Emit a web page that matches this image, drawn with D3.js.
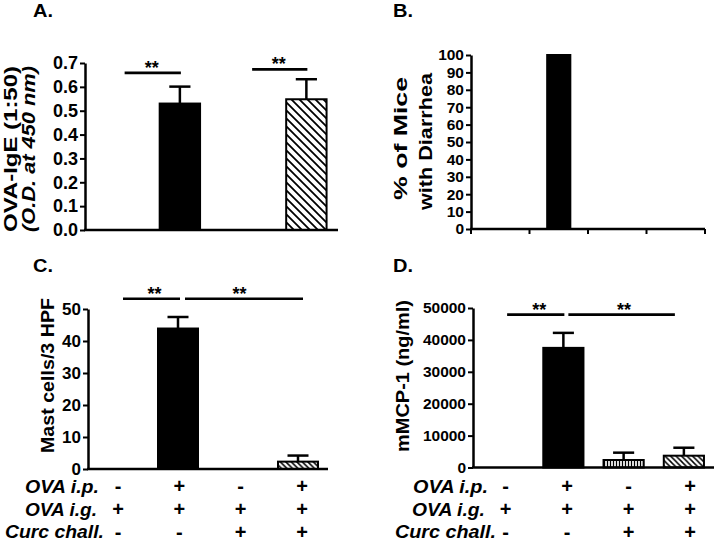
<!DOCTYPE html>
<html><head><meta charset="utf-8">
<script src="https://cdn.jsdelivr.net/npm/d3@7"></script>
<style>
body{margin:0;background:#fff}
text{font-family:"Liberation Sans",Arial,Helvetica,sans-serif;font-weight:bold;fill:#000}
</style>
</head><body>
<svg id="chart" width="716" height="542"></svg>
<script>
// ---------- data ----------
const groups = ["OVA i.g.", "OVA i.p. + i.g.", "OVA i.g. + Curc", "OVA i.p. + i.g. + Curc"];
const barStyles = ["none", "solid", "vert", "diag"];

const igeValues = [null, 0.53, null, 0.548];
const igeErrors = [null, 0.601, null, 0.632];
const igeTicks = [0, 0.1, 0.2, 0.3, 0.4, 0.5, 0.6, 0.7];

const diarrheaValues = [0, 100, 0, 0];
const diarrheaTicks = [0, 10, 20, 30, 40, 50, 60, 70, 80, 90, 100];

const mastValues = [0, 43.9, 0, 2.3];
const mastErrors = [null, 47.5, null, 4.2];
const mastTicks = [0, 10, 20, 30, 40, 50];

const mmcpValues = [0, 37500, 2350, 3700];
const mmcpErrors = [null, 42200, 4650, 6200];
const mmcpTicks = [0, 10000, 20000, 30000, 40000, 50000];

const rowLabels = ["OVA i.p.", "OVA i.g.", "Curc chall."];
const ovaIpRow = ["-", "+", "-", "+"];
const ovaIgRow = ["+", "+", "+", "+"];
const curcRow = ["-", "-", "+", "+"];

const sigA = [[0, 1, 0.659], [2, 3, 0.673]];
const sigC = [[0, 1, 53.2], [1, 3, 53.2]];
const sigD = [[0, 1, 47950], [1, 3, 47950]];

// ---------- drawing ----------
const svg = d3.select("#chart");
const defs = svg.append("defs");
function hatch(id, s, type, sw) {
  const p = defs.append("pattern").attr("id", id)
    .attr("patternUnits", "userSpaceOnUse").attr("width", s).attr("height", s);
  p.append("rect").attr("width", s).attr("height", s).attr("fill", "#fff");
  const d = type === "diag"
    ? `M0,0L${s},${s}M-1,${s-1}L1,${s+1}M${s-1},-1L${s+1},1`
    : `M${s/2},0V${s}`;
  p.append("path").attr("d", d).attr("stroke", "#000").attr("stroke-width", sw).attr("fill", "none");
}
hatch("diagA", 8, "diag", 1.8);
hatch("diagCD", 5.5, "diag", 1.5);
hatch("vertD", 3, "vert", 1.3);

function drawPanel(o) {
  const g = svg.append("g");
  const x = d3.scaleBand().domain(groups).range([o.x0, o.x1])
    .paddingInner(o.pad).paddingOuter(o.pad / 2);
  const y = d3.scaleLinear().domain([0, o.max]).range([o.y0, o.y1]);
  const bw = x.bandwidth();

  // bars
  groups.forEach((gn, i) => {
    const v = o.values[i];
    if (v == null || v <= 0) return;
    const st = barStyles[i];
    const fill = st === "solid" ? "#000" : st === "diag" ? `url(#${o.diagId})` : "url(#vertD)";
    g.append("rect").attr("x", x(gn) + 1).attr("width", bw - 2)
      .attr("y", y(v)).attr("height", y(0) - y(v))
      .attr("fill", fill).attr("stroke", "#000").attr("stroke-width", 2);
    const e = o.errors ? o.errors[i] : null;
    if (e != null) {
      const cx = x(gn) + bw / 2;
      g.append("line").attr("x1", cx).attr("x2", cx).attr("y1", y(v)).attr("y2", y(e))
        .attr("stroke", "#000").attr("stroke-width", 2.5);
      g.append("line").attr("x1", cx - bw / 4).attr("x2", cx + bw / 4).attr("y1", y(e)).attr("y2", y(e))
        .attr("stroke", "#000").attr("stroke-width", 2.5);
    }
  });

  // x axis line
  g.append("line").attr("x1", o.x0 - 1).attr("x2", o.x1).attr("y1", y(0)).attr("y2", y(0))
    .attr("stroke", "#000").attr("stroke-width", 2.5);
  if (o.xTicks) {
    const step = x.step();
    d3.range(groups.length + 1).forEach(k => {
      const xx = o.x0 + k * step;
      g.append("line").attr("x1", xx).attr("x2", xx).attr("y1", y(0)).attr("y2", y(0) + 5)
        .attr("stroke", "#000").attr("stroke-width", 2);
    });
  }

  // y axis
  const ya = g.append("g").attr("transform", `translate(${o.x0},0)`)
    .call(d3.axisLeft(y).tickValues(o.ticks).tickFormat(o.fmt).tickSize(5).tickPadding(2).tickSizeOuter(0));
  ya.select(".domain").attr("stroke", "#000").attr("stroke-width", 2.5);
  ya.selectAll(".tick line").attr("stroke", "#000").attr("stroke-width", 2);
  ya.selectAll(".tick text").attr("font-size", o.tickFont)
    .attr("font-family", '"Liberation Sans",Arial,sans-serif').attr("font-weight", "bold").attr("fill", "#000");

  // panel letter
  g.append("text").attr("x", o.letter[1]).attr("y", o.letter[2]).attr("font-size", 18)
    .attr("textLength", 20).attr("lengthAdjust", "spacingAndGlyphs").text(o.letter[0]);

  // y titles
  o.titles.forEach(t => {
    g.append("text").attr("transform", `translate(${t.x},${t.cy}) rotate(-90)`)
      .attr("text-anchor", "middle").attr("dominant-baseline", "central")
      .attr("font-size", 19).attr("font-style", t.italic ? "italic" : "normal")
      .attr("textLength", t.len).attr("lengthAdjust", "spacingAndGlyphs").text(t.text);
  });

  // significance
  if (o.sig) {
    o.sig.forEach((s, k) => {
      const xa = x(groups[s[0]]) + bw / 2 + o.sigOff[k][0];
      const xb = x(groups[s[1]]) + bw / 2 + o.sigOff[k][1];
      const yy = y(s[2]);
      g.append("line").attr("x1", xa).attr("x2", xb).attr("y1", yy).attr("y2", yy)
        .attr("stroke", "#000").attr("stroke-width", 2.7);
      g.append("text").attr("x", (xa + xb) / 2 + o.sigOff[k][2]).attr("y", yy + 1)
        .attr("text-anchor", "middle").attr("font-size", 18).text("**");
    });
  }

  // table
  if (o.table) {
    const cols = d3.scalePoint().domain(groups).range(o.table.cols);
    const rows = [ovaIpRow, ovaIgRow, curcRow];
    rows.forEach((r, ri) => {
      const by = o.table.base[ri];
      g.append("text").attr("x", o.table.labelX[ri]).attr("y", by).attr("text-anchor", "end")
        .attr("font-size", 17.5).attr("font-style", "italic")
        .attr("textLength", o.table.labelLen[ri]).attr("lengthAdjust", "spacingAndGlyphs")
        .text(rowLabels[ri]);
      r.forEach((sym, ci) => {
        g.append("text").attr("x", cols(groups[ci])).attr("y", by + (ri === 2 ? 1 : 0))
          .attr("text-anchor", "middle").attr("font-size", 20).text(sym);
      });
    });
  }
}

drawPanel({
  x0: 85, x1: 338, y0: 230, y1: 63, max: 0.7, pad: 0.33,
  values: igeValues, errors: igeErrors, ticks: igeTicks, fmt: d3.format(".1f"), tickFont: 18,
  diagId: "diagA", letter: ["A.", 33, 17],
  titles: [{text: "OVA-IgE (1:50)", x: 10, cy: 149, len: 166},
           {text: "(O.D. at 450 nm)", x: 28, cy: 149, len: 166, italic: true}],
  sig: sigA, sigOff: [[8, 1, -1], [9, 1, -1]]
});

drawPanel({
  x0: 471, x1: 705, y0: 229, y1: 55, max: 100, pad: 0.57,
  values: diarrheaValues, errors: null, ticks: diarrheaTicks, fmt: d3.format("d"), tickFont: 15.5,
  diagId: "diagA", letter: ["B.", 393, 17], xTicks: true,
  titles: [{text: "% of Mice", x: 400, cy: 138.5, len: 123},
           {text: "with Diarrhea", x: 425, cy: 141.5, len: 137}]
});

drawPanel({
  x0: 88, x1: 328, y0: 469, y1: 309, max: 50, pad: 0.3,
  values: mastValues, errors: mastErrors, ticks: mastTicks, fmt: d3.format("d"), tickFont: 17,
  diagId: "diagCD", letter: ["C.", 33, 272],
  titles: [{text: "Mast cells/3 HPF", x: 47, cy: 375.5, len: 155}],
  sig: sigC, sigOff: [[5, 2, 3], [7, 5, -4.5]],
  table: {cols: [118, 302], base: [493, 515.5, 538], labelX: [99, 97, 104], labelLen: [74, 72, 99]}
});

drawPanel({
  x0: 473, x1: 714, y0: 467.5, y1: 308, max: 50000, pad: 0.3,
  values: mmcpValues, errors: mmcpErrors, ticks: mmcpTicks, fmt: d3.format("d"), tickFont: 15.5,
  diagId: "diagCD", letter: ["D.", 393, 272],
  titles: [{text: "mMCP-1 (ng/ml)", x: 402, cy: 376, len: 152}],
  sig: sigD, sigOff: [[4, 1, 3.5], [5, -9, 2.5]],
  table: {cols: [505.5, 690], base: [493, 515.5, 538], labelX: [488, 485, 496], labelLen: [75, 73, 101]}
});
</script>
</body></html>
